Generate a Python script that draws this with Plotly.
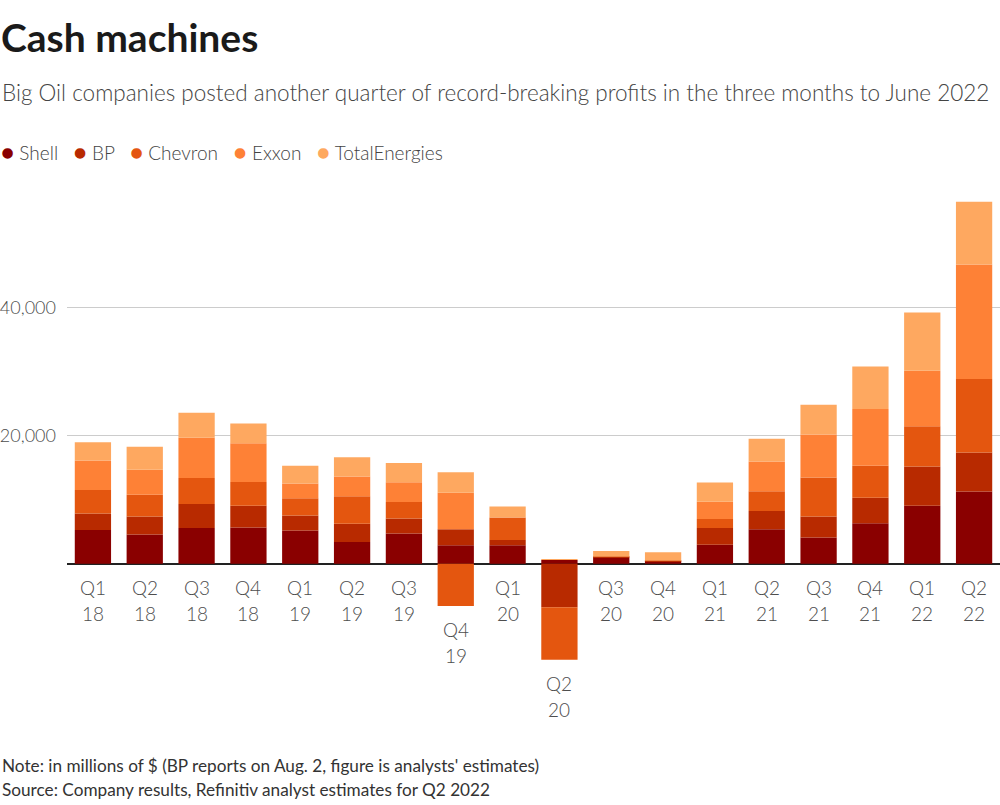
import plotly.graph_objects as go

quarters = ["Q1", "Q2", "Q3", "Q4", "Q1", "Q2", "Q3", "Q4", "Q1", "Q2", "Q3", "Q4",
            "Q1", "Q2", "Q3", "Q4", "Q1", "Q2"]
years = ["18", "18", "18", "18", "19", "19", "19", "19", "20", "20", "20", "20",
         "21", "21", "21", "21", "22", "22"]

shell = [5300, 4600, 5600, 5700, 5200, 3400, 4750, 2900, 2900, 600, 1000, 400,
         3000, 5400, 4100, 6350, 9100, 11300]
bp = [2550, 2800, 3750, 3400, 2350, 2850, 2350, 2500, 830, -6800, 90, 100,
      2600, 2850, 3300, 4000, 6100, 6100]
chevron = [3700, 3400, 4050, 3700, 2700, 4300, 2550, -6600, 3500, -8200, 0, 0,
           1400, 3100, 6100, 5000, 6300, 11500]
exxon = [4600, 3900, 6300, 6050, 2300, 3100, 3100, 5700, 0, 0, 0, 0,
         2700, 4650, 6700, 8850, 8700, 17900]
total = [2850, 3600, 3900, 3100, 2800, 3000, 3000, 3200, 1750, 150, 900, 1300,
         3000, 3550, 4650, 6650, 9100, 9800]

series_names = ["Shell", "BP", "Chevron", "Exxon", "TotalEnergies"]
series_values = [shell, bp, chevron, exxon, total]
series_colors = ["#8a0000", "#b82a00", "#e4560f", "#fe8136", "#fea860"]

y_ticks = [20000, 40000]
y_tick_labels = ["20,000", "40,000"]

title = "Cash machines"
subtitle = "Big Oil companies posted another quarter of record-breaking profits in the three months to June 2022"
note = "Note: in millions of $ (BP reports on Aug. 2, figure is analysts' estimates)"
source = "Source: Company results, Refinitiv analyst estimates for Q2 2022"

W, H = 1000, 805
L, R, T, B = 65, 0, 196, 142
PW, PH = W - L - R, H - T - B
FONT = "Lato"

def px_x(x):
    return (x - L) / PW

def px_y(y):
    return (H - B - y) / PH

cats = list(range(len(quarters)))
fig = go.Figure()
for name, vals, col in zip(series_names, series_values, series_colors):
    fig.add_trace(go.Bar(x=cats, y=vals, name=name, marker=dict(color=col, line=dict(width=0)),
                         showlegend=False))

annotations = []
annotations.append(dict(text="<b>" + title + "</b>", x=px_x(-3), y=px_y(37), xref="paper", yref="paper",
                        xanchor="left", yanchor="middle", showarrow=False,
                        font=dict(family=FONT, size=39, color="#1a1a1a")))
annotations.append(dict(text=subtitle, x=px_x(-2), y=px_y(92), xref="paper", yref="paper",
                        xanchor="left", yanchor="middle", showarrow=False,
                        font=dict(family=FONT, size=22.5, color="#444444", weight=300)))
legend_parts = []
for name, col in zip(series_names, series_colors):
    legend_parts.append('<span style="color:%s;font-size:22px">●</span>\u00a0%s' % (col, name))
annotations.append(dict(text="\u00a0\u00a0\u00a0".join(legend_parts), x=px_x(-3), y=px_y(152),
                        xref="paper", yref="paper", xanchor="left", yanchor="middle",
                        showarrow=False, font=dict(family=FONT, size=19, color="#444444", weight=300)))
annotations.append(dict(text=note, x=px_x(-2), y=px_y(765), xref="paper", yref="paper",
                        xanchor="left", yanchor="middle", showarrow=False,
                        font=dict(family=FONT, size=17.2, color="#333333")))
annotations.append(dict(text=source, x=px_x(-2), y=px_y(789), xref="paper", yref="paper",
                        xanchor="left", yanchor="middle", showarrow=False,
                        font=dict(family=FONT, size=17.2, color="#333333")))

for i in cats:
    neg = sum(v[i] for v in series_values if v[i] < 0)
    base = min(0, neg)
    annotations.append(dict(text=quarters[i], x=i, y=base, xref="x", yref="y",
                            xanchor="center", yanchor="top", yshift=-10, showarrow=False,
                            font=dict(family=FONT, size=19, color="#4d4d4d", weight=300)))
    annotations.append(dict(text=years[i], x=i, y=base, xref="x", yref="y",
                            xanchor="center", yanchor="top", yshift=-36, showarrow=False,
                            font=dict(family=FONT, size=19, color="#4d4d4d", weight=300)))

fig.update_layout(
    width=W, height=H,
    margin=dict(l=L, r=R, t=T, b=B, pad=0),
    barmode="relative",
    bargap=0.30,
    plot_bgcolor="white", paper_bgcolor="white",
    font=dict(family=FONT),
    annotations=annotations,
    xaxis=dict(range=[-0.5, len(cats) - 0.5], showticklabels=False, showgrid=False,
               zeroline=False, showline=False, ticks=""),
    yaxis=dict(range=[-15500, 57500], tickvals=y_ticks, ticktext=y_tick_labels,
               showgrid=True, gridcolor="#cccccc", gridwidth=1,
               zeroline=True, zerolinecolor="#222222", zerolinewidth=1.5,
               showline=False, ticks="", ticklabelstandoff=10,
               tickfont=dict(family=FONT, size=18, color="#4d4d4d", weight=300)),
)

fig.write_html("out.html", config={"displayModeBar": False},
               post_script="document.body.style.margin='0';")
